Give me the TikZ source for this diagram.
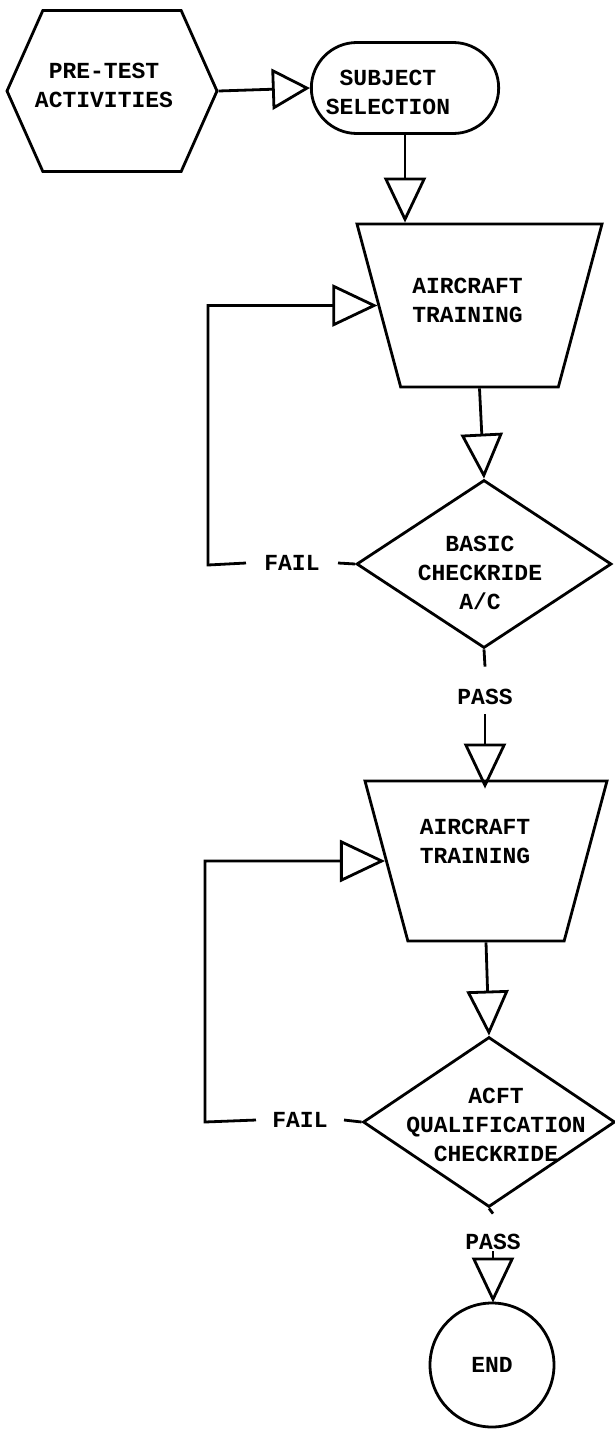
\documentclass[tikz,border=0pt]{standalone}
\usepackage{fontspec}
\setmainfont{Liberation Mono}
\usetikzlibrary{arrows.meta,shapes.geometric,shapes.misc,shapes.symbols}

\begin{document}
\begin{tikzpicture}[x=1pt,y=-1pt,line width=2.8pt,
    font=\fontsize{23}{29}\selectfont\bfseries,
    every label/.style={align=center,inner sep=0pt},
    tri/.style={-{Triangle[open,length=45pt,width=42pt]}},
    trainbox/.style={draw,trapezium,shape border rotate=180,inner xsep=0pt,
        trapezium left angle=75,trapezium right angle=75,trapezium stretches body},
    checkbox/.style={draw,diamond,inner sep=0pt},
    decision/.style={inner ysep=0pt,text height=14pt,text depth=0pt}]
    \useasboundingbox (0,0) rectangle (615,1432);

    % Start
    \node[draw,signal,signal to=west and east,signal pointer angle=132,
        minimum width=210pt,minimum height=161pt,
        label={[xshift=-8pt,yshift=6pt]center:PRE-TEST\\ACTIVITIES}] (pretest) at (112,91) {};
    \node[draw,rounded rectangle,minimum width=194pt,minimum height=91pt,
        label={[xshift=-17pt,yshift=-4pt]center:SUBJECT\\SELECTION}] (subject) at (405,88) {};

    % First training loop
    \node[trainbox,minimum width=245pt,inner ysep=81.5pt,
        label={[xshift=-12pt,yshift=5pt]center:AIRCRAFT\\TRAINING}] (train1) at (479.5,305.5) {};
    \node[checkbox,minimum width=255pt,minimum height=168pt,
        label={[xshift=-4pt,yshift=-9pt]center:BASIC\\CHECKRIDE\\A/C}] (check1) at (484,564) {};
    \node[decision,inner xsep=17pt] (fail1) at (292,563) {FAIL};
    \coordinate (loop1) at (208,565);
    \node[decision] (pass1) at (485,697) {PASS};

    % Second training loop
    \node[trainbox,minimum width=242pt,inner ysep=80pt,
        label={[xshift=-11pt,yshift=20pt]center:AIRCRAFT\\TRAINING}] (train2) at (486,861) {};
    \node[checkbox,minimum width=252pt,minimum height=170pt,
        label={[xshift=7pt,yshift=-3pt]center:ACFT\\QUALIFICATION\\CHECKRIDE}] (check2) at (489,1122) {};
    \node[decision,inner xsep=15pt] (fail2) at (300,1120) {FAIL};
    \coordinate (loop2) at (205,1122);
    \node[decision] (pass2) at (493,1242) {PASS};

    % End
    \node[draw,circle,minimum size=124pt] (finish) at (492,1365) {END};

    % Flow
    \draw[-{Triangle[open,length=38pt,width=41pt]}] (pretest.east) -- (subject.west);
    \draw[tri] (subject.south) -- (subject.south |- train1.north);
    \draw[tri] (train1.south) -- (check1.north);
    \draw (check1.west) -- (fail1.east);
    \draw[tri] (fail1.west) -- (loop1) |- (train1.west);
    \draw (check1.south) -- ([yshift=22pt]pass1.north);
    \draw[tri] ([yshift=-9pt]pass1.south) -- ([yshift=-9pt]pass1.south |- train2.north);

    \draw[tri] (train2.south) -- (check2.north);
    \draw (check2.west) -- (fail2.east);
    \draw[tri] (fail2.west) -- (loop2) |- (train2.west);
    \draw (check2.south) -- ([yshift=20pt]pass2.north);
    \draw[tri] ([yshift=-1pt]pass2.south) -- ([yshift=-1pt]pass2.south |- finish.north);
\end{tikzpicture}
\end{document}
